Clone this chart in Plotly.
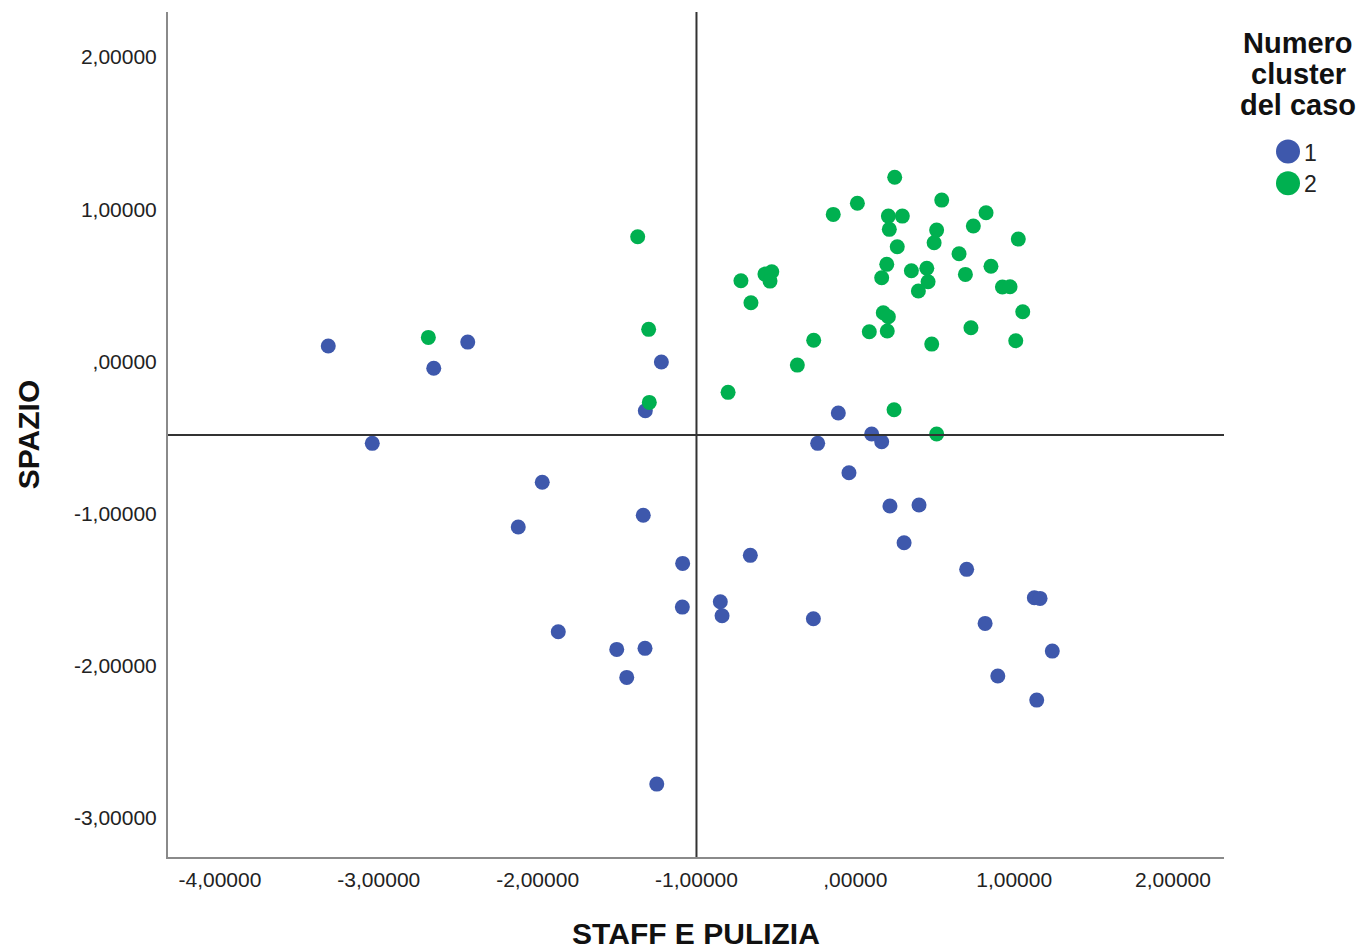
import plotly.graph_objects as go

# Cluster 1 cases (STAFF E PULIZIA, SPAZIO)
cluster1_x = [-3.318, -2.440, -2.654, -3.041, -1.221, -1.322, -0.107, 0.103, 0.166, -0.237,
              -1.971, -2.122, -1.335, -1.870, -1.502, -1.324, -1.439, -1.250, -0.040, 0.218,
              0.401, 0.307, 0.701, 1.127, 1.163, 0.817, 1.240, 0.897, 1.142, -1.087,
              -1.089, -0.661, -0.850, -0.839, -0.264]
cluster1_y = [0.101, 0.127, -0.045, -0.538, -0.004, -0.324, -0.339, -0.477, -0.528, -0.538,
              -0.794, -1.088, -1.011, -1.776, -1.892, -1.885, -2.076, -2.777, -0.731, -0.950,
              -0.943, -1.191, -1.366, -1.553, -1.557, -1.721, -1.903, -2.067, -2.225, -1.327,
              -1.614, -1.274, -1.579, -1.671, -1.691]

# Cluster 2 cases
cluster2_x = [-2.688, 0.248, 0.013, 0.544, -0.139, 0.208, 0.296, 0.823, 0.743, 0.214,
              0.512, 1.026, -1.370, 0.264, 0.496, 0.653, 0.198, 0.353, 0.450, 0.166,
              0.458, 0.397, 0.693, 0.854, 0.926, 0.974, 1.054, -0.569, -0.526, -0.537,
              -0.720, -0.657, 0.176, 0.208, 0.088, 0.201, 0.728, 1.010, 0.481, -1.301,
              -0.262, -0.365, -0.801, -1.297, 0.244, 0.512]
cluster2_y = [0.158, 1.210, 1.039, 1.060, 0.966, 0.955, 0.955, 0.977, 0.890, 0.868,
              0.863, 0.804, 0.819, 0.754, 0.780, 0.708, 0.638, 0.596, 0.612, 0.550,
              0.524, 0.463, 0.572, 0.625, 0.489, 0.491, 0.327, 0.574, 0.589, 0.528,
              0.530, 0.386, 0.320, 0.294, 0.195, 0.200, 0.221, 0.136, 0.114, 0.211,
              0.139, -0.024, -0.203, -0.269, -0.317, -0.477]

# Reference lines (means of the two factors)
ref_x = -1.0
ref_y = -0.484

x_ticks = [-4, -3, -2, -1, 0, 1, 2]
x_ticktext = ["-4,00000", "-3,00000", "-2,00000", "-1,00000", ",00000", "1,00000", "2,00000"]
y_ticks = [-3, -2, -1, 0, 1, 2]
y_ticktext = ["-3,00000", "-2,00000", "-1,00000", ",00000", "1,00000", "2,00000"]

legend_title = ["Numero", "cluster", "del caso"]
legend_labels = ["1", "2"]

BLUE = "#3E58AC"
GREEN = "#00B050"
FONT = "Liberation Sans, Arial, sans-serif"
TEXT = "#222222"

fig = go.Figure()
fig.add_trace(go.Scatter(x=cluster1_x, y=cluster1_y, mode="markers", name=legend_labels[0],
                         marker=dict(color=BLUE, size=15, line=dict(width=0))))
fig.add_trace(go.Scatter(x=cluster2_x, y=cluster2_y, mode="markers", name=legend_labels[1],
                         marker=dict(color=GREEN, size=15, line=dict(width=0))))

# Quadrant lines
fig.add_shape(type="line", xref="x", yref="paper", x0=ref_x, x1=ref_x, y0=0, y1=1,
              line=dict(color="#333333", width=2), layer="above")
fig.add_shape(type="line", xref="paper", yref="y", x0=0, x1=1, y0=ref_y, y1=ref_y,
              line=dict(color="#333333", width=2), layer="above")

# Legend drawn beside the plot area
L, R, T, B = 168, 139, 12, 93
W, H = 1363, 950
pw, ph = W - L - R, H - T - B


def px_to_paper(px, py):
    return (px - L) / pw, (H - B - py) / ph


for i, line in enumerate(legend_title):
    xp, yp = px_to_paper(1298, 43 + 31 * i)
    fig.add_annotation(x=xp, y=yp, xref="paper", yref="paper", text=f"<b>{line}</b>",
                       showarrow=False, xanchor="center", yanchor="middle",
                       font=dict(family=FONT, size=29, color="#111111"))

for i, (lab, col) in enumerate(zip(legend_labels, [BLUE, GREEN])):
    cy = 151.5 + 31.8 * i
    xp, yp = px_to_paper(1288, cy)
    fig.add_shape(type="circle", xref="paper", yref="paper", xsizemode="pixel", ysizemode="pixel",
                  xanchor=xp, yanchor=yp, x0=-12, x1=12, y0=-12, y1=12,
                  fillcolor=col, line=dict(width=0))
    tx, ty = px_to_paper(1302, cy + 1)
    fig.add_annotation(x=tx, y=ty, xref="paper", yref="paper", text=lab, showarrow=False,
                       xanchor="left", yanchor="middle",
                       font=dict(family=FONT, size=23, color=TEXT))

fig.update_layout(
    width=W, height=H,
    margin=dict(l=L, r=R, t=T, b=B, autoexpand=False),
    paper_bgcolor="white", plot_bgcolor="white",
    showlegend=False,
    font=dict(family=FONT, color=TEXT),
)
fig.update_xaxes(
    range=[-4.327, 2.321], tickvals=x_ticks, ticktext=x_ticktext,
    showgrid=False, zeroline=False, showline=True, linecolor="#8a8a8a", linewidth=2,
    ticks="outside", ticklen=3, tickcolor="rgba(0,0,0,0)",
    tickfont=dict(family=FONT, size=21, color=TEXT),
    title=dict(text="<b>STAFF E PULIZIA</b>", standoff=43,
               font=dict(family=FONT, size=30, color="#111111")),
)
fig.update_yaxes(
    range=[-3.256, 2.296], tickvals=y_ticks, ticktext=y_ticktext,
    showgrid=False, zeroline=False, showline=True, linecolor="#8a8a8a", linewidth=2,
    ticks="outside", ticklen=5, tickcolor="rgba(0,0,0,0)",
    tickfont=dict(family=FONT, size=21, color=TEXT),
    title=dict(text="<b>SPAZIO</b>", standoff=25,
               font=dict(family=FONT, size=30, color="#111111")),
)

fig.write_html("out.html")
